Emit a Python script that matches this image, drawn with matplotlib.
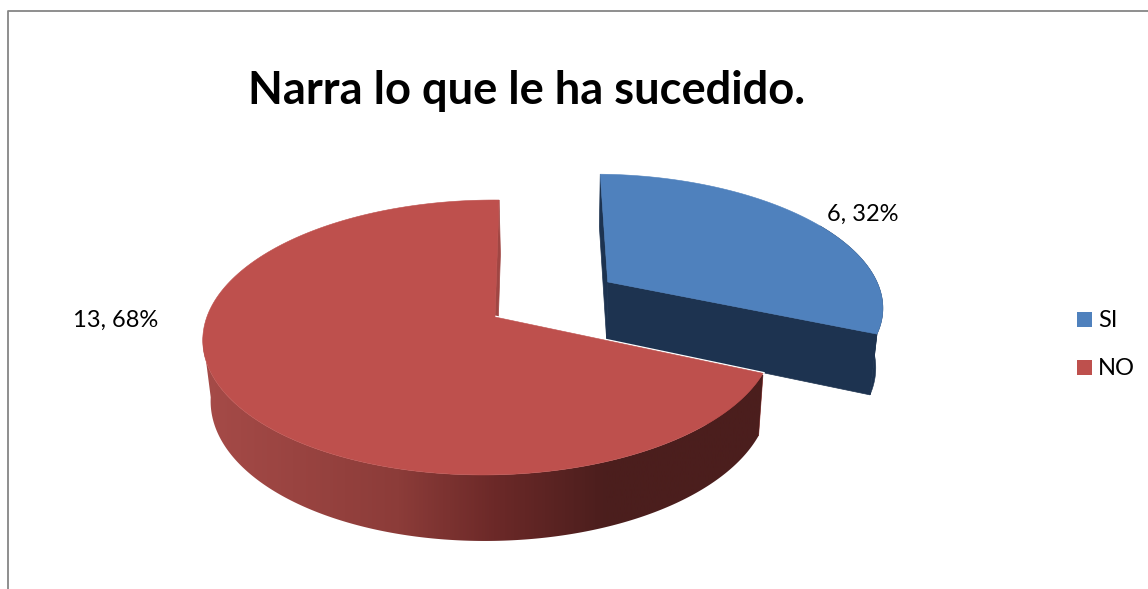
import numpy as np
import matplotlib
matplotlib.use('Agg')
import matplotlib.pyplot as plt
from matplotlib.colors import LinearSegmentedColormap
from matplotlib.patches import Polygon, Rectangle

# chart data
TITLE = 'Narra lo que le ha sucedido.'
CATEGORIES = ['SI', 'NO']
VALUES = [6, 13]

# look of the 3d pie, in pixels of the 1148x589 picture
CX, CY = 495, 317
RX, RY = 282.5, 134.4
PERSP_V, PERSP_U = 0.149, 0.0196
DEPTH = 60
EXPLODE = 0.5
RIM_SHIFT = [0.028, 0.0]
SHEAR = [0.0, 0.035]
TOP_COLORS = ['#4F81BD', '#BE504D']
SIDE_COLORS = ['#1D3350', '#9E4542']
INNER_COLORS = ['#1D3350', '#A04643']
WALL_CMAP = LinearSegmentedColormap.from_list(
    'wall', [(0, '#A64B48'), (0.35, '#8C3C39'), (0.52, '#6C2928'), (0.72, '#4B1E1D'), (1, '#4B1E1D')])
LABEL_POS = [(863, 214), (116, 320)]


def project(u, v, z=0.0, shear=0.0):
    """Unit disc point (u right, v to viewer) to picture pixels"""
    u, v = np.asarray(u, float), np.asarray(v, float)
    w = 1 - PERSP_V * v + PERSP_U * u
    x = CX + RX * u / w
    y = CY + RY * v / w
    x = x - shear * (y - CY)
    x = x - 0.022 * z * (x - 560)
    y = y + DEPTH * z * (1 + 0.1 * v)
    return np.column_stack([x, y])


def rim(a0, a1, off, z=0.0, shear=0.0, n=200):
    # angles run clockwise from 12 o'clock
    t = np.radians(np.linspace(a0, a1, n))
    return project(np.sin(t) + off[0], -np.cos(t) + off[1], z, shear)


def draw_slice(ax, a0, a1, off, shift, shear, top, side, inner, gradient=False):
    apex = project([off[0]], [off[1]])
    apex_b = project([off[0]], [off[1]], 1)
    rim_off = (off[0] + shift, off[1])
    edge = rim(a0, a1, rim_off, 0, shear)
    edge_b = rim(a0, a1, rim_off, 1, shear)

    # flat cut walls first
    for i in (0, -1):
        quad = [apex[0], apex_b[0], edge_b[i], edge[i]]
        ax.add_patch(Polygon(quad, closed=True, fc=inner, ec=inner, lw=0.5, zorder=2))

    # outer wall, only the part turned to the viewer
    a_from = max(a0, 60)
    a_to = min(a1, 262)
    wall = np.vstack([rim(a_from, a_to, rim_off, 0, shear), rim(a_from, a_to, rim_off, 1, shear)[::-1]])
    if gradient:
        shape = Polygon(wall, closed=True, fc='none', ec='none', zorder=3)
        ax.add_patch(shape)
        img = ax.imshow(np.linspace(0, 1, 400).reshape(1, -1), extent=(200, 765, 589, 0),
                        cmap=WALL_CMAP, aspect='auto', zorder=3)
        img.set_clip_path(shape)
        ax.set_xlim(0, 1148)
        ax.set_ylim(589, 0)
        # thin white gap that parts the cut from the slice behind it
        ax.plot([apex[0][0], edge[0][0]], [apex[0][1], edge[0][1]], color='white', lw=2.2, zorder=3.5)
    else:
        ax.add_patch(Polygon(wall, closed=True, fc=side, ec=side, lw=0.4, zorder=3))

    ax.add_patch(Polygon(np.vstack([apex, edge]), closed=True, fc=top, ec=top, lw=0.4, zorder=4))


fig = plt.figure(figsize=(11.48, 5.89), dpi=100)
ax = fig.add_axes([0, 0, 1, 1])
ax.set_xlim(0, 1148)
ax.set_ylim(589, 0)
ax.axis('off')

# chart frame, only top and left are in the crop
ax.plot([7.5, 7.5, 1148], [589, 10.5, 10.5], color='#868686', lw=1.3, zorder=1)

ax.text(527, 91, TITLE, fontsize=32.6, fontweight='bold', family='Lato', color='black',
        ha='center', va='center')

total = sum(VALUES)
angles = np.cumsum([0] + [v / total * 360 for v in VALUES])

# first slice is pulled away along its bisector
mid = np.radians((angles[0] + angles[1]) / 2)
offsets = [(EXPLODE * np.sin(mid), -EXPLODE * np.cos(mid)), (0.0, 0.0)]

for i in range(len(VALUES)):
    draw_slice(ax, angles[i], angles[i + 1], offsets[i], RIM_SHIFT[i], SHEAR[i], TOP_COLORS[i],
               SIDE_COLORS[i], INNER_COLORS[i], gradient=(i == 1))
    pct = round(VALUES[i] / total * 100)
    ax.text(LABEL_POS[i][0], LABEL_POS[i][1], f'{VALUES[i]}, {pct}%', fontsize=17, family='Lato',
            color='black', ha='center', va='center', zorder=6)

# legend
for i, name in enumerate(CATEGORIES):
    y = 312 + i * 48
    ax.add_patch(Rectangle((1077, y), 15, 15, fc=TOP_COLORS[i], ec='none'))
    ax.text(1098, y + 8.5, name, fontsize=17, family='Lato', color='black', ha='left', va='center')

fig.savefig('out.png', dpi=100)
